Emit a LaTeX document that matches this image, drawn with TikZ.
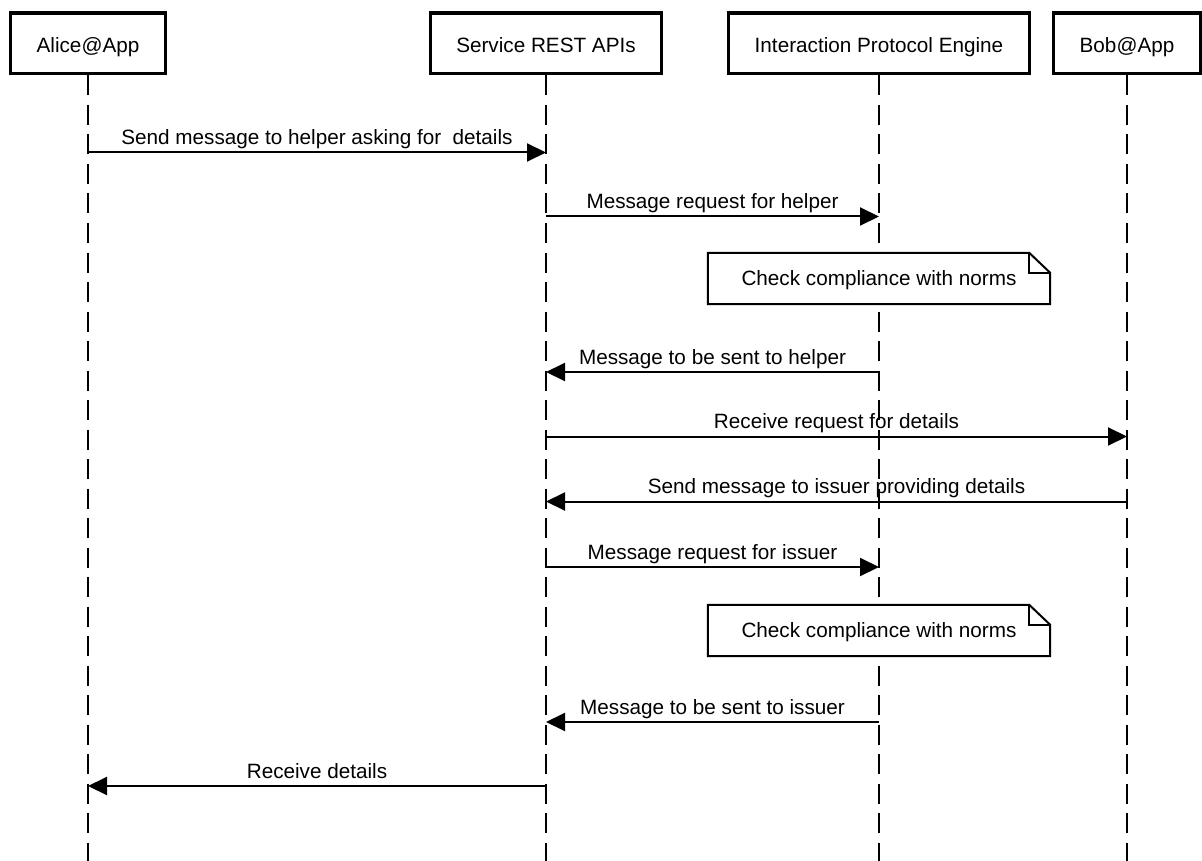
\documentclass[tikz,border=0pt]{standalone}
\usepackage{fontspec}
\setmainfont{Liberation Sans}
\usetikzlibrary{arrows.meta}

\newcommand{\diagfont}{\fontsize{20.7}{24}\selectfont}

\tikzset{
  actor/.style={draw, line width=3.5pt, minimum height=60.5pt,
    inner xsep=26pt, inner ysep=0pt, text height=19pt, text depth=0pt,
    font=\diagfont},
  lifeline/.style={line width=2pt, dash pattern=on 20pt off 9.5pt},
  msg/.style={line width=2pt, -{Triangle[length=19pt,width=18pt]}},
  lbl/.style={anchor=base, inner sep=0pt, font=\diagfont},
  notebox/.style={fill=white, minimum width=342pt, minimum height=51pt,
    inner sep=0pt, text height=13pt, text depth=0pt, font=\diagfont},
  noteline/.style={line width=2pt, line join=miter},
}

\begin{document}
\begin{tikzpicture}[x=1pt, y=-1pt]
  \useasboundingbox (0,0) rectangle (1202,861);

  % participants
  \node[actor] (alice) at (88,43.5)   {Alice@App};
  \node[actor] (rest)  at (546,43.5)  {Service REST APIs};
  \node[actor] (ipe)   at (879,43.5)  {Interaction Protocol Engine};
  \node[actor] (bob)   at (1127,43.5) {Bob@App};

  % lifeline ends
  \coordinate (aliceEnd) at (alice |- 0,861);
  \coordinate (restEnd)  at (rest  |- 0,861);
  \coordinate (ipeEnd)   at (ipe   |- 0,861);
  \coordinate (bobEnd)   at (bob   |- 0,861);

  \draw[lifeline] (alice.south) -- (aliceEnd);
  \draw[lifeline] (rest.south)  -- (restEnd);
  \draw[lifeline] (ipe.south)   -- (ipeEnd);
  \draw[lifeline] (bob.south)   -- (bobEnd);

  % message anchor points on the lifelines
  \coordinate (a1) at (alice |- 0,152.5); \coordinate (r1) at (rest |- 0,152.5);
  \coordinate (r2) at (rest  |- 0,216.5); \coordinate (i2) at (ipe  |- 0,216.5);
  \coordinate (i3) at (ipe   |- 0,372);   \coordinate (r3) at (rest |- 0,372);
  \coordinate (r4) at (rest  |- 0,436.5); \coordinate (b4) at (bob  |- 0,436.5);
  \coordinate (b5) at (bob   |- 0,501.5); \coordinate (r5) at (rest |- 0,501.5);
  \coordinate (r6) at (rest  |- 0,567);   \coordinate (i6) at (ipe  |- 0,567);
  \coordinate (i7) at (ipe   |- 0,722);   \coordinate (r7) at (rest |- 0,722);
  \coordinate (r8) at (rest  |- 0,786);   \coordinate (a8) at (alice |- 0,786);

  % messages
  \draw[msg] (a1) -- (r1) node[lbl, midway, yshift=8pt] {Send message to helper asking for \ details};
  \draw[msg] (r2) -- (i2) node[lbl, midway, yshift=8pt] {Message request for helper};
  \draw[msg] (i3) -- (r3) node[lbl, midway, yshift=8pt] {Message to be sent to helper};
  \draw[msg] (r4) -- (b4) node[lbl, midway, yshift=8pt] {Receive request for details};
  \draw[msg] (b5) -- (r5) node[lbl, midway, yshift=8pt] {Send message to issuer providing details};
  \draw[msg] (r6) -- (i6) node[lbl, midway, yshift=8pt] {Message request for issuer};
  \draw[msg] (i7) -- (r7) node[lbl, midway, yshift=8pt] {Message to be sent to issuer};
  \draw[msg] (r8) -- (a8) node[lbl, midway, yshift=8pt] {Receive details};

  % notes with folded corner
  \node[notebox] (n1) at (879,278.5) {Check compliance with norms};
  \node[notebox] (n2) at (879,630.5) {Check compliance with norms};
  \foreach \n in {n1,n2}{
    \draw[noteline] (\n.south west) -- (\n.north west)
      -- ([xshift=-21pt]\n.north east) -- ([yshift=-20pt]\n.north east)
      -- (\n.south east) -- cycle;
    \draw[noteline] ([xshift=-21pt]\n.north east) |- ([yshift=-20pt]\n.north east);
  }
\end{tikzpicture}
\end{document}
